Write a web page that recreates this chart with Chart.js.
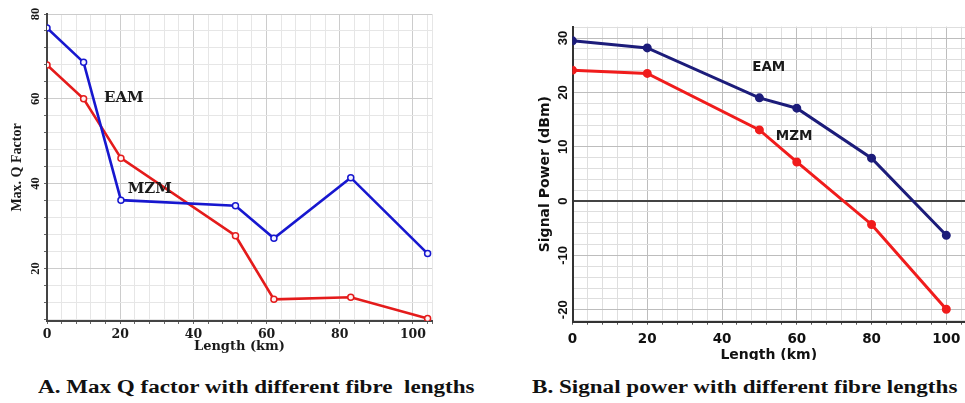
<!DOCTYPE html>
<html>
<head>
<meta charset="utf-8">
<script src="https://cdn.jsdelivr.net/npm/chart.js@4.4.1/dist/chart.umd.min.js"></script>
<style>
  body { margin: 0; width: 965px; height: 403px; overflow: hidden; background: #fff; position: relative; }
  #chartA { position: absolute; left: 0; top: 0; }
  #chartB { position: absolute; left: 480px; top: 0; }
  #captions { position: absolute; left: 0; top: 360px; width: 965px; height: 43px; background: #fff; z-index: 2; }
  .caption {
    position: absolute; top: 18px; display: inline-block; white-space: pre;
    font: bold 18px/18px "Liberation Serif", "Times New Roman", serif; color: #111;
    transform-origin: 0 0;
  }
</style>
</head>
<body>
<canvas id="chartA" width="440" height="360"></canvas>
<canvas id="chartB" width="495" height="370"></canvas>
<div id="captions">
  <span class="caption" id="capA" style="left:38px">A. Max Q factor with different fibre  lengths</span>
  <span class="caption" id="capB" style="left:532px">B. Signal power with different fibre lengths</span>
</div>
<script>
// A: max Q factor vs fibre length
const lengthA = [0, 10, 20.2, 51.5, 62, 83, 104];
const eamQ = [76.7, 68.6, 36.1, 34.8, 27.1, 41.4, 23.5];
const mzmQ = [68.0, 60.0, 46.0, 27.7, 12.7, 13.2, 8.2];
const xTicksA = [0, 20, 40, 60, 80, 100];
const yTicksA = [20, 40, 60, 80];

// B: signal power vs fibre length
const lengthB = [0, 20, 50, 60, 80, 100];
const eamPower = [29.5, 28.2, 19.0, 17.1, 7.9, -6.3];
const mzmPower = [24.1, 23.5, 13.1, 7.2, -4.3, -19.9];
const xTicksB = [0, 20, 40, 60, 80, 100];
const yTicksB = [-20, -10, 0, 10, 20, 30];

const SERIF = '"Liberation Serif", "Times New Roman", serif';
const WIDE_SERIF = '"DejaVu Serif", serif';
const SANS = '"Liberation Sans", Arial, sans-serif';
const WIDE_SANS = '"DejaVu Sans", sans-serif';

function toPoints(xs, ys) {
  return xs.map((x, i) => ({ x, y: ys[i] }));
}

// minor grid every `step`, optionally with a line on the max edge
function gridTicks(step, withMax) {
  return (scale) => {
    const ticks = [];
    for (let v = Math.ceil(scale.min / step) * step; v <= scale.max + 1e-9; v += step) {
      ticks.push({ value: Math.round(v * 1000) / 1000 });
    }
    if (withMax && ticks[ticks.length - 1].value !== scale.max) ticks.push({ value: scale.max });
    return ticks;
  };
}

const seriesLabels = {
  id: 'seriesLabels',
  afterDatasetsDraw(chart, args, opts) {
    const { ctx, scales: { x, y } } = chart;
    ctx.save();
    ctx.font = opts.font;
    ctx.fillStyle = '#1a1a1a';
    ctx.textAlign = 'center';
    ctx.textBaseline = 'middle';
    opts.items.forEach((item) => {
      ctx.fillText(item.text, x.getPixelForValue(item.x), y.getPixelForValue(item.y));
    });
    ctx.restore();
  }
};

function axisColor(majors, major, minor, zero) {
  return (ctx) => {
    if (!ctx.tick) return minor;
    if (zero && ctx.tick.value === 0) return zero;
    return majors.includes(ctx.tick.value) ? major : minor;
  };
}

new Chart(document.getElementById('chartA'), {
  type: 'scatter',
  data: {
    datasets: [
      {
        label: 'EAM',
        data: toPoints(lengthA, eamQ),
        showLine: true,
        borderColor: '#1717cf',
        borderWidth: 2.6,
        pointRadius: 3,
        pointBorderWidth: 1.5,
        pointBackgroundColor: '#f4f4ff',
        pointBorderColor: '#1717cf'
      },
      {
        label: 'MZM',
        data: toPoints(lengthA, mzmQ),
        showLine: true,
        borderColor: '#e41b1b',
        borderWidth: 2.6,
        pointRadius: 3,
        pointBorderWidth: 1.5,
        pointBackgroundColor: '#fff2f2',
        pointBorderColor: '#e41b1b'
      }
    ]
  },
  options: {
    responsive: false,
    animation: false,
    events: [],
    layout: { padding: { left: 0, top: 14, right: 8, bottom: 0 } },
    scales: {
      x: {
        type: 'linear',
        min: 0,
        max: 105.2,
        afterBuildTicks: (scale) => { scale.ticks = gridTicks(4, true)(scale); },
        afterFit: (scale) => { scale.height = 39; },
        grid: { color: axisColor(xTicksA, '#cccccc', '#e6e6e6'), tickLength: 3, tickColor: '#666' },
        border: { color: '#444', width: 2 },
        ticks: {
          autoSkip: false,
          maxRotation: 0,
          padding: 3,
          color: '#1a1a1a',
          font: { family: WIDE_SERIF, size: 12.5, weight: 'bold' },
          callback: (value) => (xTicksA.includes(value) ? String(value) : '')
        },
        title: {
          display: true,
          text: 'Length (km)',
          color: '#1a1a1a',
          font: { family: WIDE_SERIF, size: 13, weight: 'bold' },
          padding: { top: 0, bottom: 6 }
        }
      },
      y: {
        min: 7.6,
        max: 80,
        afterBuildTicks: (scale) => { scale.ticks = gridTicks(4, false)(scale); },
        afterFit: (scale) => { scale.width = 47; },
        grid: { color: axisColor(yTicksA, '#cccccc', '#e6e6e6'), tickLength: 3, tickColor: '#666' },
        border: { color: '#444', width: 2 },
        ticks: {
          autoSkip: false,
          minRotation: 90,
          maxRotation: 90,
          crossAlign: 'center',
          padding: 2,
          color: '#1a1a1a',
          font: { family: SERIF, size: 12.5, weight: 'bold' },
          callback: (value) => (yTicksA.includes(value) ? String(value) : '')
        },
        title: {
          display: true,
          text: 'Max. Q Factor',
          color: '#1a1a1a',
          font: { family: SERIF, size: 14, weight: 'bold' },
          padding: { top: 8.6, bottom: 0 }
        }
      }
    },
    plugins: {
      legend: { display: false },
      tooltip: { enabled: false },
      seriesLabels: {
        font: `bold 15px ${WIDE_SERIF}`,
        items: [
          { text: 'EAM', x: 21, y: 60.2 },
          { text: 'MZM', x: 28.1, y: 38.7 }
        ]
      }
    }
  },
  plugins: [seriesLabels]
});

new Chart(document.getElementById('chartB'), {
  type: 'scatter',
  data: {
    datasets: [
      {
        label: 'EAM',
        data: toPoints(lengthB, eamPower),
        showLine: true,
        borderColor: '#1c1c7a',
        borderWidth: 3,
        pointRadius: 3,
        pointBackgroundColor: '#1c1c7a',
        pointBorderColor: '#1c1c7a'
      },
      {
        label: 'MZM',
        data: toPoints(lengthB, mzmPower),
        showLine: true,
        borderColor: '#f01c1c',
        borderWidth: 3,
        pointRadius: 3,
        pointBackgroundColor: '#f01c1c',
        pointBorderColor: '#f01c1c'
      }
    ]
  },
  options: {
    responsive: false,
    animation: false,
    events: [],
    layout: { padding: { left: 48, top: 26.7, right: 10, bottom: 0 } },
    scales: {
      x: {
        type: 'linear',
        min: 0,
        max: 105,
        afterBuildTicks: (scale) => { scale.ticks = gridTicks(4, false)(scale); },
        afterFit: (scale) => { scale.height = 48.3; },
        grid: { color: axisColor(xTicksB, '#bdbdbd', '#dedede'), tickLength: 3, tickColor: '#555' },
        border: { color: '#333', width: 2 },
        ticks: {
          autoSkip: false,
          maxRotation: 0,
          padding: 7,
          color: '#111',
          font: { family: WIDE_SANS, size: 13.5, weight: 'bold' },
          callback: (value) => (xTicksB.includes(value) ? String(value) : '')
        },
        title: {
          display: true,
          text: 'Length (km)',
          color: '#111',
          font: { family: WIDE_SANS, size: 14, weight: 'bold' },
          padding: { top: 0, bottom: 6.6 }
        }
      },
      y: {
        min: -22.2,
        max: 32.1,
        afterBuildTicks: (scale) => { scale.ticks = gridTicks(2, false)(scale); },
        afterFit: (scale) => { scale.width = 44.5; },
        grid: {
          color: axisColor(yTicksB, '#bdbdbd', '#dedede', '#444'),
          lineWidth: (ctx) => (ctx.tick && ctx.tick.value === 0 ? 2 : 1),
          drawTicks: false
        },
        border: { color: '#333', width: 2 },
        ticks: {
          autoSkip: false,
          minRotation: 90,
          maxRotation: 90,
          crossAlign: 'center',
          padding: 0,
          color: '#111',
          font: { family: SANS, size: 13, weight: 'bold' },
          callback: (value) => (yTicksB.includes(value) ? String(value) : '')
        },
        title: {
          display: true,
          text: 'Signal Power (dBm)',
          color: '#111',
          font: { family: WIDE_SANS, size: 14, weight: 'bold' },
          padding: { top: 8.6, bottom: 0 }
        }
      }
    },
    plugins: {
      legend: { display: false },
      tooltip: { enabled: false },
      seriesLabels: {
        font: `bold 13.5px ${WIDE_SANS}`,
        items: [
          { text: 'EAM', x: 52.5, y: 24.5 },
          { text: 'MZM', x: 59.3, y: 11.8 }
        ]
      }
    }
  },
  plugins: [seriesLabels]
});

function fitCaption(id, width) {
  const el = document.getElementById(id);
  el.style.transform = `scaleX(${width / el.offsetWidth})`;
}
fitCaption('capA', 436);
fitCaption('capB', 426);
</script>
</body>
</html>
